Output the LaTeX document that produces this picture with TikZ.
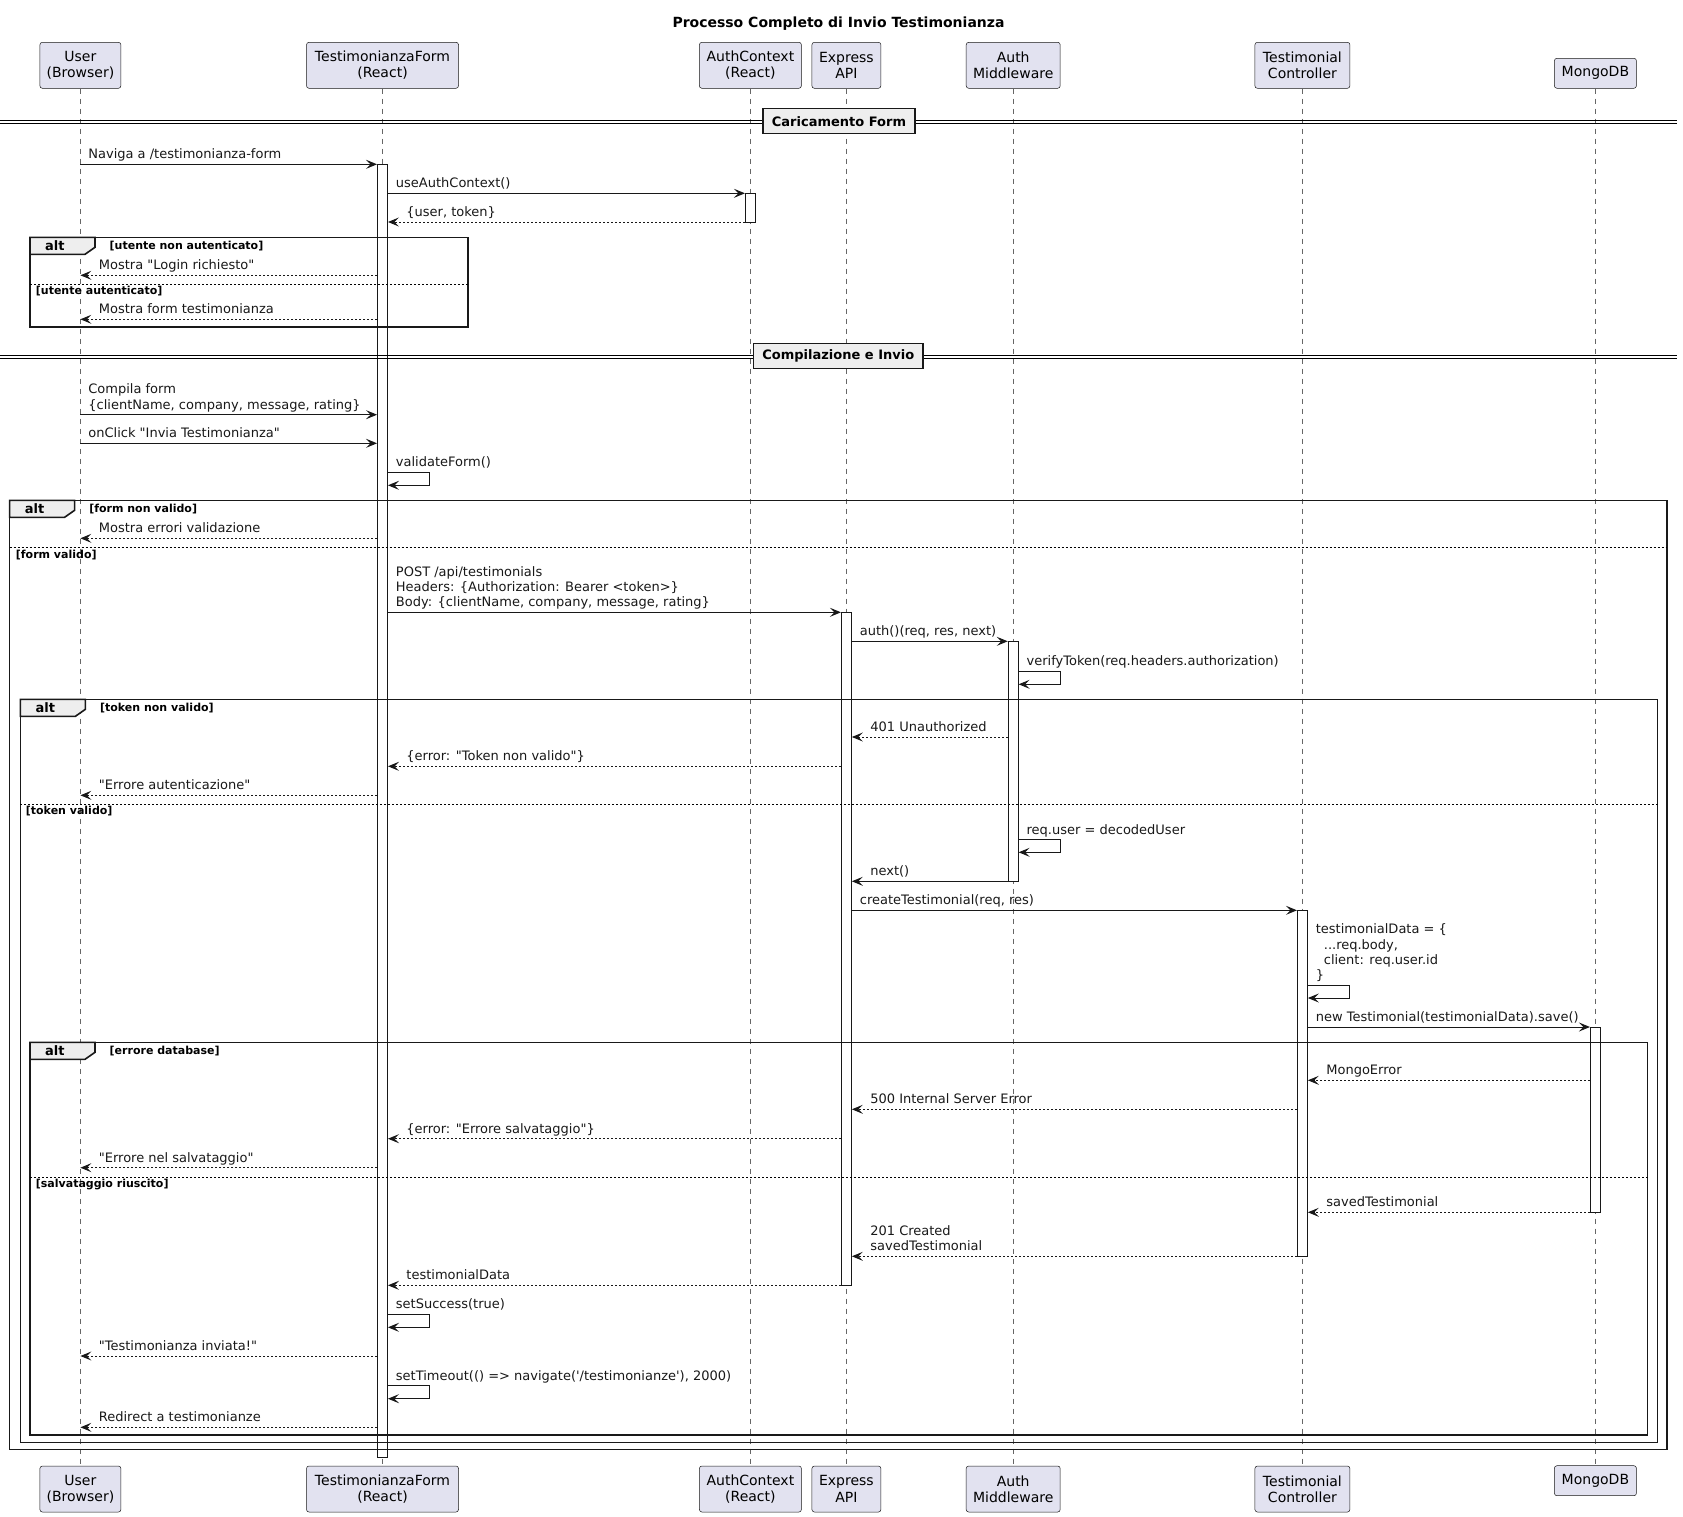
\documentclass[tikz,border=0pt]{standalone}
\usepackage{fontspec}
\setmainfont{DejaVu Sans}[Ligatures=TeXOff]
\usetikzlibrary{arrows.meta,calc}

\definecolor{partfill}{HTML}{E2E2F0}
\definecolor{partline}{HTML}{181818}
\definecolor{grpfill}{HTML}{EEEEEE}

\newcommand\msgfont{\fontsize{13}{15.3}\selectfont}
\newcommand\partfont{\fontsize{14}{16.3}\selectfont}
\newcommand\grdfont{\fontsize{11}{13}\selectfont\bfseries}

% left, top, right, bottom, guard, name prefix
\newcommand\altframe[6]{%
  \draw[frame] (#1,#2) rectangle (#3,#4);
  \draw[frame, fill=grpfill] (#1,#2) -- (#1+65,#2) -- (#1+65,#2+10) -- (#1+55,#2+17) -- (#1,#2+17) -- cycle;
  \node[alttxt] (#6alt) at (#1+15,#2+13.2) {alt};
  \node[guard] (#6g) at (#1+79.5,#2+12.3) {#5};
}

\begin{document}
\begin{tikzpicture}[x=1pt,y=-1pt,
  part/.style={draw=partline, line width=0.5pt, fill=partfill, rounded corners=2.5pt,
    align=center, font=\partfont, inner sep=0pt, minimum height=46pt},
  lifeline/.style={draw=black!60, line width=0.6pt, dash pattern=on 5pt off 5pt},
  act/.style={draw=partline, fill=white, line width=0.9pt, minimum width=10pt, inner sep=0pt, anchor=north},
  call/.style={draw=partline, line width=1pt, -{Stealth[length=11pt,width=9pt,inset=4.5pt]}},
  ret/.style={call, dash pattern=on 2pt off 2pt},
  msg/.style={anchor=south west, inner sep=0pt, text depth=0pt, align=left, font=\msgfont, text=partline},
  lr/.style={msg, pos=0, xshift=7.5pt, yshift=5pt},
  rl/.style={msg, pos=1, xshift=18pt, yshift=5pt},
  selflbl/.style={msg, xshift=7.5pt, yshift=5pt},
  frame/.style={draw=black!90, line width=1.6pt},
  elsesep/.style={draw=black, line width=0.8pt, dash pattern=on 2pt off 2pt},
  alttxt/.style={anchor=base west, inner sep=0pt, font=\fontsize{13}{15}\selectfont\bfseries},
  guard/.style={anchor=base west, inner sep=0pt, font=\grdfont},
  dsep/.style={draw=black, line width=1pt},
  seplbl/.style={draw=black!90, line width=1.6pt, fill=grpfill, inner xsep=9pt, inner ysep=0pt,
    minimum height=25pt, font=\fontsize{13}{15}\selectfont\bfseries},
  titlestyle/.style={anchor=base, inner sep=0pt, font=\fontsize{14}{16}\selectfont\bfseries}
]
\useasboundingbox (0,0) rectangle (1683,1517);

\node[titlestyle] (title) at (838.5,28) {Processo Completo di Invio Testimonianza};

% participants (top)
\node[part, minimum width=81pt]  (pU)  at (80.4,65.3)   {User\\(Browser)};
\node[part, minimum width=152pt] (pF)  at (382.5,65.3)  {TestimonianzaForm\\(React)};
\node[part, minimum width=102pt] (pAC) at (750.4,65.3)  {AuthContext\\(React)};
\node[part, minimum width=69pt]  (pE)  at (846.4,65.3)  {Express\\API};
\node[part, minimum width=94pt]  (pM)  at (1013.2,65.3) {Auth\\Middleware};
\node[part, minimum width=95pt]  (pC)  at (1302.4,65.3) {Testimonial\\Controller};
\node[part, minimum width=82pt, minimum height=30pt] (pD) at (1595.4,73.3) {MongoDB};
% participants (bottom)
\node[part, minimum width=81pt]  (bU)  at (80.4,1489)   {User\\(Browser)};
\node[part, minimum width=152pt] (bF)  at (382.5,1489)  {TestimonianzaForm\\(React)};
\node[part, minimum width=102pt] (bAC) at (750.4,1489)  {AuthContext\\(React)};
\node[part, minimum width=69pt]  (bE)  at (846.4,1489)  {Express\\API};
\node[part, minimum width=94pt]  (bM)  at (1013.2,1489) {Auth\\Middleware};
\node[part, minimum width=95pt]  (bC)  at (1302.4,1489) {Testimonial\\Controller};
\node[part, minimum width=82pt, minimum height=30pt] (bD) at (1595.4,1480.7) {MongoDB};

% lifelines
\foreach \p in {U,F,AC,E,M,C,D} \draw[lifeline] (p\p.south) -- (b\p.north);

% activation bars
\node[act, minimum height=1292.4pt] (aF)  at (pF |- 0,164.3)  {};
\node[act, minimum height=28.7pt]   (aAC) at (pAC |- 0,193.3) {};
\node[act, minimum height=673pt]    (aE)  at (pE |- 0,612.3)  {};
\node[act, minimum height=240pt]    (aM)  at (pM |- 0,641.3)  {};
\node[act, minimum height=346pt]    (aC)  at (pC |- 0,910.3)  {};
\node[act, minimum height=185.3pt]  (aD)  at (pD |- 0,1027)   {};

% alt frames
\altframe{30}{237.3}{468.2}{326.7}{[utente non autenticato]}{fa}
\draw[elsesep] (30,284.3) -- (468.2,284.3);
\node[guard] (fae) at (35.7,294.6) {[utente autenticato]};

\altframe{9.6}{500.3}{1667.2}{1449.3}{[form non valido]}{fb}
\draw[elsesep] (9.6,547.7) -- (1667.2,547.7);
\node[guard] (fbe) at (15.7,558) {[form valido]};

\altframe{20.4}{699.3}{1657.5}{1442.3}{[token non valido]}{fc}
\draw[elsesep] (20.4,804.3) -- (1657.5,804.3);
\node[guard] (fce) at (25.7,814.6) {[token valido]};

\altframe{30}{1042.3}{1647.5}{1435}{[errore database]}{fd}
\draw[elsesep] (30,1177) -- (1647.5,1177);
\node[guard] (fde) at (35.7,1187.3) {[salvataggio riuscito]};

% section separators
\draw[dsep] (0,120.7) -- (1677,120.7);
\draw[dsep] (0,123.3) -- (1677,123.3);
\node[seplbl] (s1) at (839,121.2) {Caricamento Form};
\draw[dsep] (0,355.3) -- (1677,355.3);
\draw[dsep] (0,358.3) -- (1677,358.3);
\node[seplbl] (s2) at (838.3,355.9) {Compilazione e Invio};

% messages
\draw[call] (pU |- 0,164.3) -- (aF.west |- 0,164.3) node[lr] (m1) {Naviga a /testimonianza-form};
\draw[call] (aF.east |- 0,193.3) -- (aAC.west |- 0,193.3) node[lr] (m2) {useAuthContext()};
\draw[ret] (aAC.west |- 0,222) -- (aF.east |- 0,222) node[rl] (m3) {\{user, token\}};
\draw[ret] (aF.west |- 0,275.3) -- (pU |- 0,275.3) node[rl] (m4) {Mostra "Login richiesto"};
\draw[ret] (aF.west |- 0,319.3) -- (pU |- 0,319.3) node[rl] (m5) {Mostra form testimonianza};

\draw[call] (pU |- 0,414.7) -- (aF.west |- 0,414.7) node[lr] (m6) {Compila form\\\{clientName, company, message, rating\}};
\draw[call] (pU |- 0,443.3) -- (aF.west |- 0,443.3) node[lr] (m7) {onClick "Invia Testimonianza"};
\draw[call] (aF.east |- 0,472.3) node[selflbl] (m8) {validateForm()} -- ++(42,0) -- ++(0,13) -- (aF.east |- 0,485.3);
\draw[ret] (aF.west |- 0,538.3) -- (pU |- 0,538.3) node[rl] (m9) {Mostra errori validazione};
\draw[call] (aF.east |- 0,612.3) -- (aE.west |- 0,612.3) node[lr] (m10) {POST /api/testimonials\\Headers: \{Authorization: Bearer <token>\}\\Body: \{clientName, company, message, rating\}};
\draw[call] (aE.east |- 0,641.3) -- (aM.west |- 0,641.3) node[lr] (m11) {auth()(req, res, next)};
\draw[call] (aM.east |- 0,671.3) node[selflbl] (m12) {verifyToken(req.headers.authorization)} -- ++(42,0) -- ++(0,13) -- (aM.east |- 0,684.3);
\draw[ret] (aM.west |- 0,737) -- (aE.east |- 0,737) node[rl] (m13) {401 Unauthorized};
\draw[ret] (aE.west |- 0,766.3) -- (aF.east |- 0,766.3) node[rl] (m14) {\{error: "Token non valido"\}};
\draw[ret] (aF.west |- 0,795.3) -- (pU |- 0,795.3) node[rl] (m15) {"Errore autenticazione"};
\draw[call] (aM.east |- 0,839.7) node[selflbl] (m16) {req.user = decodedUser} -- ++(42,0) -- ++(0,12.6) -- (aM.east |- 0,852.3);
\draw[call] (aM.west |- 0,881.3) -- (aE.east |- 0,881.3) node[rl] (m17) {next()};
\draw[call] (aE.east |- 0,910.3) -- (aC.west |- 0,910.3) node[lr] (m18) {createTestimonial(req, res)};
\draw[call] (aC.east |- 0,985.3) node[selflbl] (m19) {testimonialData = \{\\\hspace*{8pt}...req.body,\\\hspace*{8pt}client: req.user.id\\\}} -- ++(42,0) -- ++(0,12.7) -- (aC.east |- 0,998);
\draw[call] (aC.east |- 0,1027) -- (aD.west |- 0,1027) node[lr] (m20) {new Testimonial(testimonialData).save()};
\draw[ret] (aD.west |- 0,1080.3) -- (aC.east |- 0,1080.3) node[rl] (m21) {MongoError};
\draw[ret] (aC.west |- 0,1109.3) -- (aE.east |- 0,1109.3) node[rl] (m22) {500 Internal Server Error};
\draw[ret] (aE.west |- 0,1138.7) -- (aF.east |- 0,1138.7) node[rl] (m23) {\{error: "Errore salvataggio"\}};
\draw[ret] (aF.west |- 0,1167.7) -- (pU |- 0,1167.7) node[rl] (m24) {"Errore nel salvataggio"};
\draw[ret] (aD.west |- 0,1212.3) -- (aC.east |- 0,1212.3) node[rl] (m25) {savedTestimonial};
\draw[ret] (aC.west |- 0,1256.3) -- (aE.east |- 0,1256.3) node[rl] (m26) {201 Created\\savedTestimonial};
\draw[ret] (aE.west |- 0,1285.3) -- (aF.east |- 0,1285.3) node[rl] (m27) {testimonialData};
\draw[call] (aF.east |- 0,1314.3) node[selflbl] (m28) {setSuccess(true)} -- ++(42,0) -- ++(0,13) -- (aF.east |- 0,1327.3);
\draw[ret] (aF.west |- 0,1356) -- (pU |- 0,1356) node[rl] (m29) {"Testimonianza inviata!"};
\draw[call] (aF.east |- 0,1385.7) node[selflbl] (m30) {setTimeout(() => navigate('/testimonianze'), 2000)} -- ++(42,0) -- ++(0,13) -- (aF.east |- 0,1398.7);
\draw[ret] (aF.west |- 0,1427.3) -- (pU |- 0,1427.3) node[rl] (m31) {Redirect a testimonianze};
\end{tikzpicture}
\end{document}
